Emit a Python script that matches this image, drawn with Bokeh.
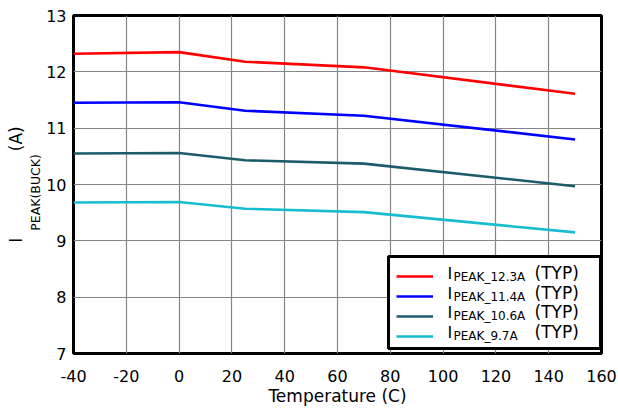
from bokeh.plotting import figure
from bokeh.models import (Label, Legend, LegendItem, Range1d, FixedTicker,
                          PrintfTickFormatter, BoxAnnotation, Title)
from bokeh.embed import file_html
from bokeh.resources import INLINE

# ---- data ----
temps = [-40, 0, 25, 70, 150]
i_12p3 = [12.32, 12.35, 12.18, 12.08, 11.61]
i_11p4 = [11.45, 11.46, 11.31, 11.22, 10.80]
i_10p6 = [10.55, 10.56, 10.43, 10.37, 9.97]
i_9p7 = [9.68, 9.69, 9.57, 9.51, 9.15]

series_names = ["PEAK_12.3A", "PEAK_11.4A", "PEAK_10.6A", "PEAK_9.7A"]
series_vals = [i_12p3, i_11p4, i_10p6, i_9p7]
series_colors = ["#FF0000", "#0000FF", "#1D5B6B", "#16BDCF"]

x_ticks = [-40, -20, 0, 20, 40, 60, 80, 100, 120, 140, 160]
y_ticks = [7, 8, 9, 10, 11, 12, 13]

FONT = "DejaVu Sans"
NB = "\u00a0"

p = figure(width=618, height=408, output_backend="svg", toolbar_location=None,
           x_range=Range1d(-40, 160), y_range=Range1d(7, 13))
p.min_border_left = 73
p.min_border_right = 17
p.min_border_top = 15
p.min_border_bottom = 53

p.outline_line_color = "black"
p.outline_line_width = 3

for ax in (p.xaxis[0], p.yaxis[0]):
    ax.axis_line_color = None
    ax.major_tick_line_color = None
    ax.minor_tick_line_color = None
    ax.major_label_text_font = FONT
    ax.major_label_text_font_size = "16px"
    ax.major_label_text_color = "black"
    ax.formatter = PrintfTickFormatter(format="%d")
p.xaxis.major_label_standoff = 10
p.yaxis.major_label_standoff = 1

p.xaxis.ticker = FixedTicker(ticks=x_ticks)
p.yaxis.ticker = FixedTicker(ticks=y_ticks)
p.xaxis.axis_label = "Temperature (C)"
p.xaxis.axis_label_text_font = FONT
p.xaxis.axis_label_text_font_size = "17px"
p.xaxis.axis_label_text_font_style = "normal"
p.xaxis.axis_label_text_color = "black"
p.xaxis.axis_label_standoff = 1

# y title: subscript part as the axis label (nearest the ticks) ...
p.yaxis.axis_label = "PEAK(BUCK)" + NB * 4
p.yaxis.axis_label_text_font = FONT
p.yaxis.axis_label_text_font_size = "12.5px"
p.yaxis.axis_label_text_font_style = "normal"
p.yaxis.axis_label_text_color = "black"
p.yaxis.axis_label_standoff = 0
# ... and the main part "I ... (A)" as a title just outside it
p.add_layout(Title(text="I" + NB * 16 + "(A)", align="center", standoff=0,
                   text_font=FONT, text_font_size="17px", text_font_style="normal",
                   text_color="black"), "left")

p.xgrid.ticker = FixedTicker(ticks=x_ticks)
p.ygrid.ticker = FixedTicker(ticks=y_ticks)
for g in (p.xgrid[0], p.ygrid[0]):
    g.grid_line_color = "#858585"
    g.grid_line_width = 1.2

renderers = []
for vals, col in zip(series_vals, series_colors):
    r = p.line(temps, vals, line_color=col, line_width=2.6)
    renderers.append(r)

# legend box (white with thick black border), drawn first
p.add_layout(BoxAnnotation(left=315, right=527, bottom=5, top=97,
                           left_units="screen", right_units="screen",
                           bottom_units="screen", top_units="screen",
                           fill_color="white", fill_alpha=1.0,
                           line_color="black", line_width=3, line_alpha=1.0))


def add_text(x, y, text, size):
    # y is the bottom of the text box (default baseline "bottom")
    p.add_layout(Label(x=x, y=y, x_units="screen", y_units="screen", text=text,
                       text_font=FONT, text_font_size=size, text_color="black"))


# legend texts (I + subscript + (TYP)); row text-box bottoms in frame pixels
row_bottoms = [71, 51, 32, 12]
for name, yb in zip(series_names, row_bottoms):
    add_text(374, yb, "I", "16px")
    add_text(380, yb - 1, name, "12px")
    add_text(461, yb, "(TYP)", "17px")

# legend swatches only (transparent, no border), added last
legend = Legend(items=[LegendItem(label=" ", renderers=[r]) for r in renderers],
                location=(323, 9), orientation="vertical",
                border_line_color=None, background_fill_alpha=0.0,
                padding=8, spacing=4, margin=0,
                glyph_width=37, glyph_height=16, label_height=16,
                label_standoff=8, label_width=151)
p.add_layout(legend)

open("out.html", "w").write(file_html(p, INLINE))
